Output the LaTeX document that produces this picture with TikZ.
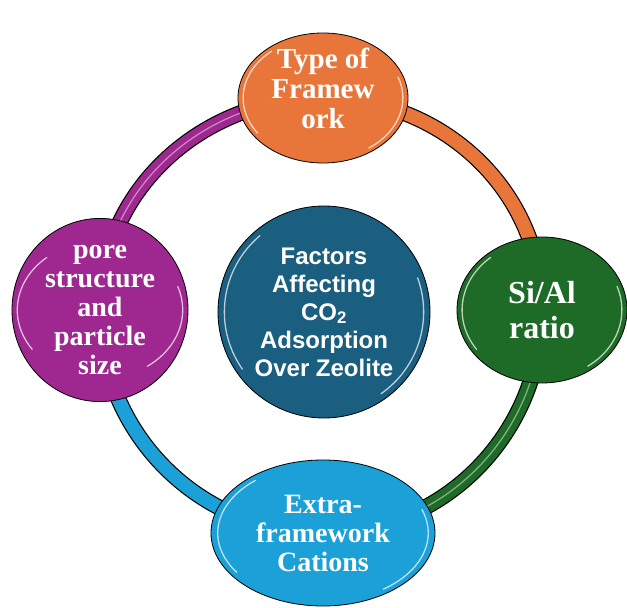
\documentclass[tikz,border=0pt]{standalone}
\usepackage{fontspec}
\setmainfont{Liberation Serif}
\setsansfont{Liberation Sans}
\usetikzlibrary{shapes.geometric,backgrounds,calc}
\definecolor{cOrange}{HTML}{E8763A}
\definecolor{cGreen}{HTML}{1D6B27}
\definecolor{cPurple}{HTML}{9E2790}
\definecolor{cBlue}{HTML}{1BA0D8}
\definecolor{cCenter}{HTML}{1A5E80}
\newcommand\glossy[3]{%
  \draw[gloss] ($(#1.center)+({0.94*#2*cos(215)},{0.94*#3*sin(215)})$)
     arc[start angle=215,end angle=130,x radius={0.94*#2},y radius={0.94*#3}];
  \draw[gloss] ($(#1.center)+({0.94*#2*cos(-55)},{0.94*#3*sin(-55)})$)
     arc[start angle=-55,end angle=20,x radius={0.94*#2},y radius={0.94*#3}];
}
\begin{document}
\begin{tikzpicture}[x=1pt,y=1pt,
  factor/.style={ellipse,draw=black,line width=0.8pt,inner sep=0pt,text=white,align=center,
    font=\bfseries\fontsize{28}{30}\selectfont},
  factortext/.style={text=white,align=center,inner sep=0pt,font=\bfseries\fontsize{29}{30}\selectfont},
  hub/.style={circle,draw=black,line width=0.8pt,fill=cCenter,minimum size=212pt,inner sep=0pt,
    text=white,align=center,font=\sffamily\bfseries\fontsize{24}{28}\selectfont},
  ringout/.style={line width=16pt,black},
  ringin/.style={line width=13.6pt},
  ringshine/.style={white,opacity=.45,line width=1.3pt},
  gloss/.style={white,opacity=.7,line width=1.3pt,line cap=round}]
\useasboundingbox (0,0) rectangle (627,608);

\node[hub] (hub) at (324,296) {Factors\\Affecting\\CO\textsubscript{2}\\Adsorption\\Over Zeolite};
\node[factor,fill=cOrange,minimum width=170pt,minimum height=130pt] (top) at (323,510) {};
\node[factortext] (toptext) at (323,520) {Type of\\Framew\\ork};
\node[factor,fill=cGreen,minimum width=170pt,minimum height=146pt,
  font=\bfseries\fontsize{32}{35}\selectfont] (right) at (542,298) {Si/Al\\ratio};
\node[factor,fill=cPurple,minimum width=176pt,minimum height=146pt,
  font=\bfseries\fontsize{28}{29}\selectfont] (left) at (100,298) {pore\\structure\\and\\particle\\size};
\node[factor,fill=cBlue,minimum width=224pt,minimum height=146pt,
  font=\bfseries\fontsize{28}{29}\selectfont] (bottom) at (323,75) {Extra-\\framework\\Cations};

\glossy{top}{85}{65}
\glossy{right}{85}{73}
\glossy{left}{88}{73}
\glossy{bottom}{112}{73}
\glossy{hub}{106}{106}

\begin{pgfonlayer}{background}
\draw[ringout] (top.center) to[out=0,in=90] (right.center) to[out=-90,in=0] (bottom.center)
  to[out=180,in=-90] (left.center) to[out=90,in=180] (top.center);
\draw[ringin,cOrange] (top.center) to[out=0,in=90] (right.center);
\draw[ringin,cGreen] (right.center) to[out=-90,in=0] (bottom.center);
\draw[ringin,cBlue] (bottom.center) to[out=180,in=-90] (left.center);
\draw[ringin,cPurple] (left.center) to[out=90,in=180] (top.center);
\draw[ringshine] (right.center) to[out=-90,in=0] (bottom.center);
\draw[ringshine] (left.center) to[out=90,in=180] (top.center);
\end{pgfonlayer}
\end{tikzpicture}
\end{document}
